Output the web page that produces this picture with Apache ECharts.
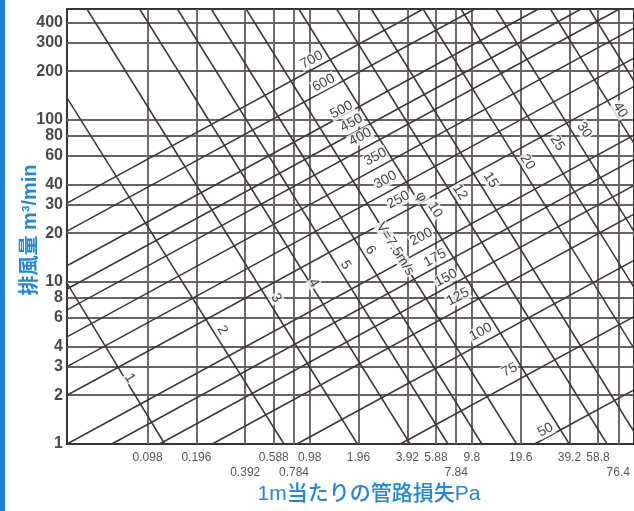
<!DOCTYPE html>
<html><head><meta charset="utf-8">
<script src="https://cdn.jsdelivr.net/npm/echarts@6/dist/echarts.min.js"></script>
<style>html,body{margin:0;padding:0;background:#fff}#c{width:634px;height:511px}</style>
</head><body><div id="c"></div>
<script>
// axis ranges (Pa, m3/min)
const xMin = 0.0312, xMax = 98, yMin = 1, yMax = 484;

// tick labels
const xTicksUpper = [0.098, 0.196, 0.588, 0.98, 1.96, 3.92, 5.88, 9.8, 19.6, 39.2, 58.8];
const xTickLabelsUpper = ['0.098', '0.196', '0.588', '0.98', '1.96', '3.92', '5.88', '9.8', '19.6', '39.2', '58.8'];
const xTicksLower = [0.392, 0.784, 7.84, 78.4];
const xTickLabelsLower = ['0.392', '0.784', '7.84', '76.4'];
const xGrid = [0.098, 0.196, 0.392, 0.588, 0.784, 0.98, 1.96, 3.92, 5.88, 7.84, 9.8, 19.6, 39.2, 58.8, 78.4];
const yTicks = [1, 2, 3, 4, 6, 8, 10, 20, 30, 40, 60, 80, 100, 200, 300, 400];
const yGrid = [2, 3, 4, 6, 8, 10, 20, 30, 40, 60, 80, 100, 200, 300, 400];

// duct diameter lines (mm): start / end points [Pa, m3/min]
const diameters = ['50', '75', '100', '125', '150', '175', '200', '250', '300', '350', '400', '450', '500', '600', '700'];
const diameterStart = [[23.9, 1], [3.55, 1], [0.816, 1], [0.2455, 1], [0.116, 1], [0.0589, 1], [0.0312, 1],
  [0.0312, 2.0], [0.0312, 3.0], [0.0312, 4.58], [0.0312, 6.72], [0.0312, 9.05], [0.0312, 12.6], [0.0312, 20.6], [0.0312, 30.7]];
const diameterEnd = [[98, 2.16], [98, 6.10], [98, 13.6], [98, 26.2], [98, 39.4], [98, 57.0], [98, 80.5],
  [98, 161], [98, 241], [98, 369], [79.8, 484], [46.3, 484], [25.2, 484], [10.24, 484], [4.92, 484]];
const diameterLabelPos = [[27.9, 1.22], [16.76, 2.86], [11.13, 4.91], [8.04, 8.08], [6.79, 10.59], [5.81, 14.06], [4.77, 18.96],
  [3.45, 32.1], [2.87, 42.6], [2.49, 59.1], [2.01, 78.5], [1.774, 95.8], [1.541, 115.3], [1.195, 169.2], [1.008, 234.6]];

// air velocity lines (m/s)
const velocities = ['1', '2', '3', '4', '5', '6', '7.5', '10', '12', '15', '20', '25', '30', '40', '50'];
const velocityStart = [[0.0312, 9.85], [0.0312, 136.7], [0.0414, 484], [0.0875, 484], [0.1497, 484], [0.242, 484], [0.397, 484],
  [0.839, 484], [1.436, 484], [2.35, 484], [4.9, 484], [8.39, 484], [13.76, 484], [29.9, 484], [51.9, 484]];
const velocityEnd = [[0.125, 1], [0.68, 1], [1.93, 1], [4.08, 1], [6.98, 1], [11.3, 1], [18.5, 1],
  [39.1, 1], [66.9, 1], [98, 1.19], [98, 3.89], [98, 9.25], [98, 20.5], [98, 71.6], [98, 174]];
const velocityLabels = ['1', '2', '3', '4', '5', '6', 'V=7.5m/s', '10', '12', '15', '20', '25', '30', '40', 'φ'];
const velocityLabelPos = [[0.0761, 2.556], [0.283, 5.05], [0.607, 7.96], [1.037, 9.86], [1.63, 12.73], [2.32, 15.76], [3.3, 16.0],
  [5.81, 27.8], [8.27, 35.9], [12.8, 42.6], [21.6, 55.0], [33.0, 72.1], [48.3, 86.7], [80.4, 115.3], [4.77, 33.5]];

const chart = echarts.init(document.getElementById('c'), null, {renderer: 'canvas'});

const gridSegs = xGrid.map(p => ({coords: [[p, yMin], [p, yMax]]}))
  .concat(yGrid.map(q => ({coords: [[xMin, q], [xMax, q]]})));
const diamSegs = diameterStart.map((s, i) => ({name: diameters[i], coords: [s, diameterEnd[i]]}));
const velSegs = velocityStart.map((s, i) => ({name: velocities[i], coords: [s, velocityEnd[i]]}));

const hidden = {axisLine: {show: false}, axisTick: {show: false}, axisLabel: {show: false}, splitLine: {show: false}};
const FONT = "'Liberation Sans', Arial, sans-serif";
const BLUE = '#2386d6';

chart.setOption({
  animation: false,
  backgroundColor: '#fff',
  grid: {left: 67, top: 9, width: 570, height: 435, show: true, borderColor: '#3b3434', borderWidth: 2, backgroundColor: '#fff'},
  xAxis: Object.assign({type: 'log', logBase: 10, min: xMin, max: xMax}, hidden),
  yAxis: Object.assign({type: 'log', logBase: 10, min: yMin, max: yMax}, hidden),
  graphic: [
    {type: 'rect', left: 0, top: 0, shape: {width: 5, height: 511}, style: {fill: '#1d7fd0'}},
    {type: 'text', x: 369, y: 494, style: {text: '1m当たりの管路損失Pa', fill: BLUE, font: "500 21px 'Liberation Sans','Noto Sans CJK JP',sans-serif", textAlign: 'center', textVerticalAlign: 'middle'}},
    {type: 'text', x: 30, y: 230, rotation: Math.PI / 2, style: {text: '排風量 m³/min', fill: BLUE, font: "bold 20px 'Liberation Sans','Noto Sans CJK JP',sans-serif", textAlign: 'center', textVerticalAlign: 'middle'}}
  ],
  series: [
    {type: 'lines', coordinateSystem: 'cartesian2d', silent: true, z: 1, data: gridSegs,
      lineStyle: {color: '#6a6262', width: 1.9, opacity: 1}},
    {type: 'lines', coordinateSystem: 'cartesian2d', silent: true, z: 2, data: diamSegs,
      lineStyle: {color: '#3e3636', width: 1.5, opacity: 1}},
    {type: 'lines', coordinateSystem: 'cartesian2d', silent: true, z: 2, data: velSegs,
      lineStyle: {color: '#3e3636', width: 1.5, opacity: 1}},
    {type: 'scatter', clip: false, z: 5, symbolSize: 0, itemStyle: {color: 'transparent'},
      data: diameterLabelPos.map((p, i) => ({name: diameters[i], value: p})),
      label: {show: true, position: 'inside', formatter: '{b}', rotate: 28, color: '#111', fontSize: 14, fontFamily: FONT,
        backgroundColor: '#fff', padding: [0, 1]}},
    {type: 'scatter', clip: false, z: 5, symbolSize: 0, itemStyle: {color: 'transparent'},
      data: velocityLabelPos.map((p, i) => ({name: velocityLabels[i], value: p})),
      label: {show: true, position: 'inside', formatter: '{b}', rotate: -58, color: '#111', fontSize: 14, fontFamily: FONT,
        backgroundColor: '#fff', padding: [0, 1]}},
    {type: 'scatter', clip: false, z: 5, symbolSize: 0, itemStyle: {color: 'transparent'},
      data: xTicksUpper.map((p, i) => ({name: xTickLabelsUpper[i], value: [p, yMin]})),
      label: {show: true, position: 'inside', offset: [0, 14], formatter: '{b}', color: '#2a2a2a', fontSize: 12, fontFamily: FONT}},
    {type: 'scatter', clip: false, z: 5, symbolSize: 0, itemStyle: {color: 'transparent'},
      data: xTicksLower.map((p, i) => ({name: xTickLabelsLower[i], value: [p, yMin]})),
      label: {show: true, position: 'inside', offset: [0, 29], formatter: '{b}', color: '#2a2a2a', fontSize: 12, fontFamily: FONT}},
    {type: 'scatter', clip: false, z: 5, symbolSize: 0, itemStyle: {color: 'transparent'},
      data: yTicks.map(q => ({name: String(q), value: [xMin, q]})),
      label: {show: true, position: 'left', distance: 4, formatter: '{b}', color: '#1a1a1a', fontSize: 16, fontWeight: 'bold', fontFamily: FONT}}
  ]
});
</script></body></html>
